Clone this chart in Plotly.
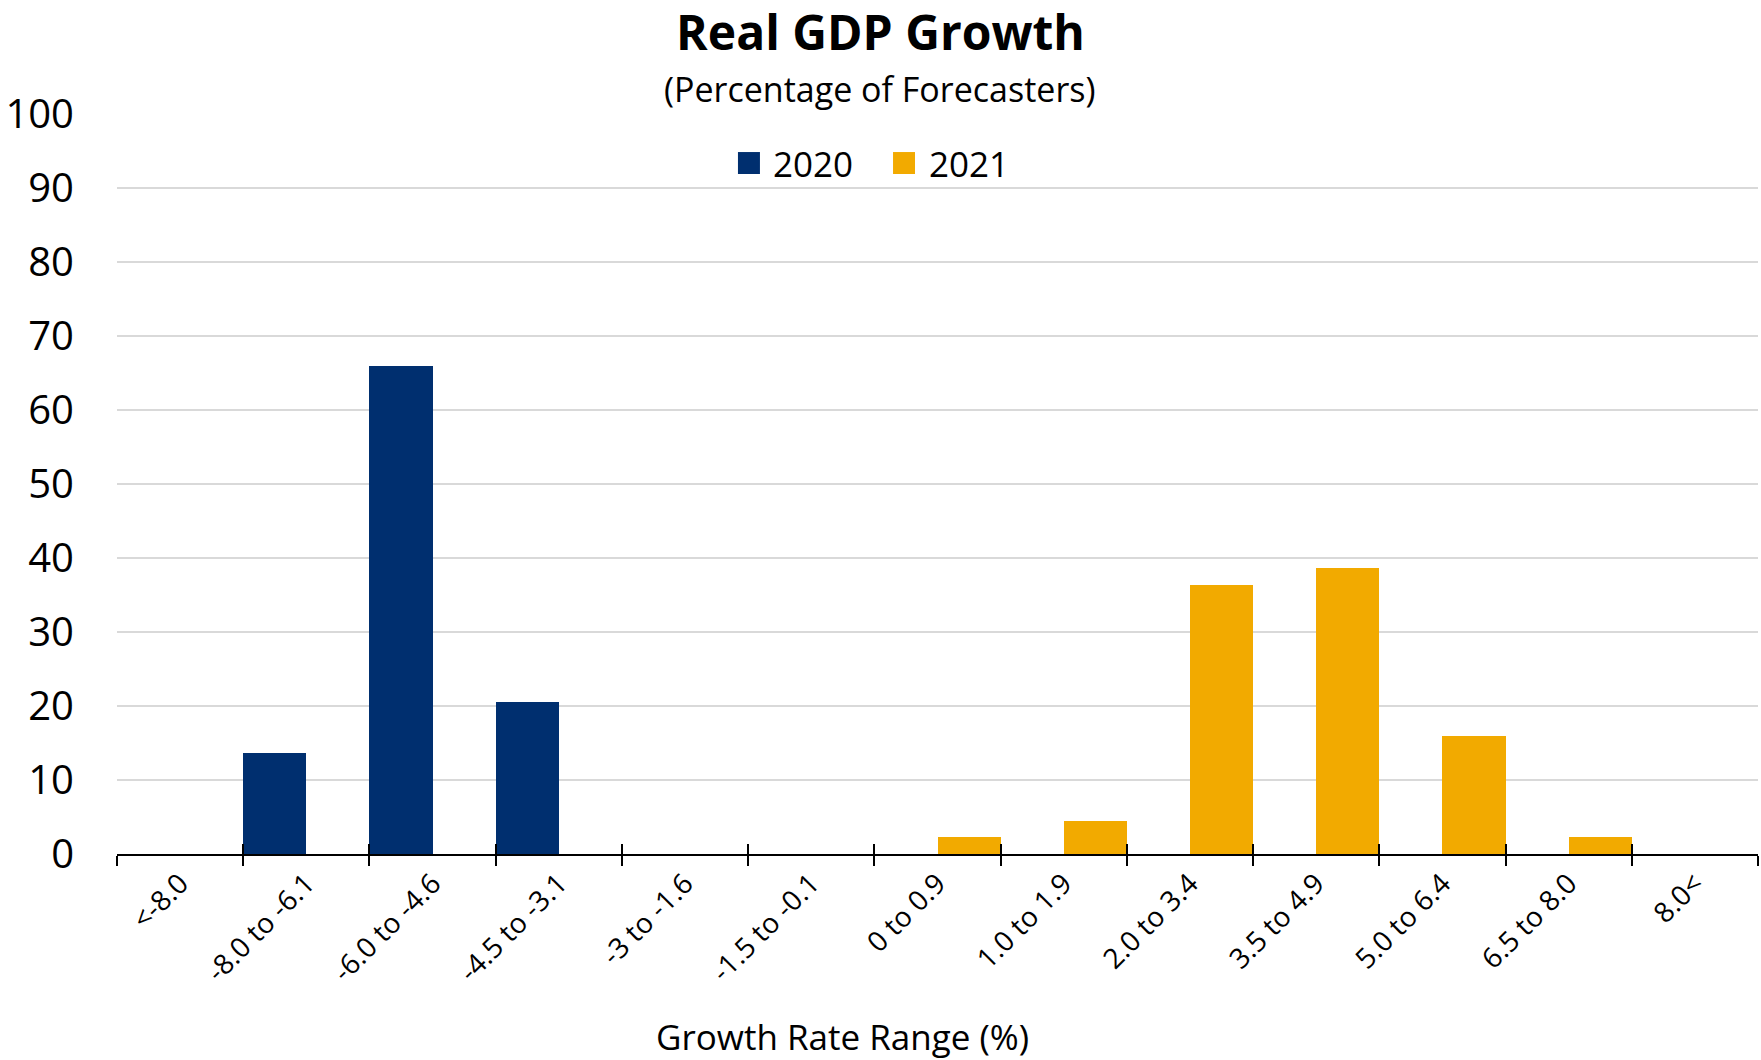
import plotly.graph_objects as go

# Growth-rate buckets and share of forecasters (%) in each
categories = ["<-8.0", "-8.0 to -6.1", "-6.0 to -4.6", "-4.5 to -3.1", "-3 to -1.6",
              "-1.5 to -0.1", "0 to 0.9", "1.0 to 1.9", "2.0 to 3.4", "3.5 to 4.9",
              "5.0 to 6.4", "6.5 to 8.0", "8.0<"]
share_2020 = [0, 13.6, 65.9, 20.5, 0, 0, 0, 0, 0, 0, 0, 0, 0]
share_2021 = [0, 0, 0, 0, 0, 0, 2.3, 4.5, 36.4, 38.6, 15.9, 2.3, 0]
y_ticks = [0, 10, 20, 30, 40, 50, 60, 70, 80, 90, 100]

NAVY = "#002F6F"
GOLD = "#F2AA00"
FONT = "Open Sans"

fig = go.Figure()
fig.add_trace(go.Bar(x=categories, y=share_2020, name="2020", marker_color=NAVY,
                     marker_line_width=0, showlegend=False))
fig.add_trace(go.Bar(x=categories, y=share_2021, name="2021", marker_color=GOLD,
                     marker_line_width=0, showlegend=False))

# second axis only carries the inner half of the boundary tick marks
n = len(categories)
fig.add_trace(go.Scatter(x=[None], y=[None], xaxis="x2", showlegend=False, hoverinfo="skip"))

# hand-built legend: square swatch + label, in paper coordinates
legend_items = [("2020", NAVY, 0.3784), ("2021", GOLD, 0.4729)]
sw_w, sw_y0, sw_y1, txt_gap = 0.0134, 0.9189, 0.9486, 0.0070
shapes, annotations = [], []
for label, col, x0 in legend_items:
    shapes.append(dict(type="rect", xref="paper", yref="paper", x0=x0, x1=x0 + sw_w,
                       y0=sw_y0, y1=sw_y1, fillcolor=col, line_width=0))
    annotations.append(dict(text=label, xref="paper", yref="paper", x=x0 + sw_w + txt_gap,
                            y=(sw_y0 + sw_y1) / 2, xanchor="left", yanchor="middle",
                            showarrow=False, font=dict(size=35)))

annotations += [
    dict(text="(Percentage of Forecasters)", xref="paper", yref="paper",
         x=0.465, y=1.034, showarrow=False, font=dict(size=34), yanchor="middle"),
    dict(text="Growth Rate Range (%)", xref="paper", yref="paper",
         x=0.442, y=-0.247, showarrow=False, font=dict(size=35), yanchor="middle"),
]

fig.update_layout(
    width=1761, height=1060,
    margin=dict(l=117, r=3, t=114, b=206),
    paper_bgcolor="white", plot_bgcolor="white",
    font=dict(family=FONT, color="black"),
    barmode="group", bargap=0, bargroupgap=0,
    showlegend=False,
    title=dict(text="<b>Real GDP Growth</b>", x=0.5, xref="container", xanchor="center",
               y=1 - 33 / 1060, yref="container", yanchor="middle",
               font=dict(size=48, family=FONT, color="black")),
    xaxis=dict(type="category", categoryarray=categories, tickangle=-45,
               tickson="boundaries", ticks="outside", ticklen=10, tickwidth=2,
               tickcolor="black", showline=True, linecolor="black", linewidth=2,
               showgrid=False, tickfont=dict(size=28), range=[-0.5, n - 0.5]),
    xaxis2=dict(overlaying="x", anchor="y", range=[-0.5, n - 0.5], tick0=-0.5, dtick=1,
                ticks="inside", ticklen=10, tickwidth=2, tickcolor="black",
                showticklabels=False, showgrid=False, zeroline=False, showline=False),
    yaxis=dict(range=[0, 100], tickvals=y_ticks, showgrid=True, gridcolor="#D9D9D9",
               gridwidth=2, zeroline=False, showline=False, ticks="",
               tickfont=dict(size=40), ticklabelstandoff=42),
    shapes=shapes,
    annotations=annotations,
)

fig.write_html("out.html")
